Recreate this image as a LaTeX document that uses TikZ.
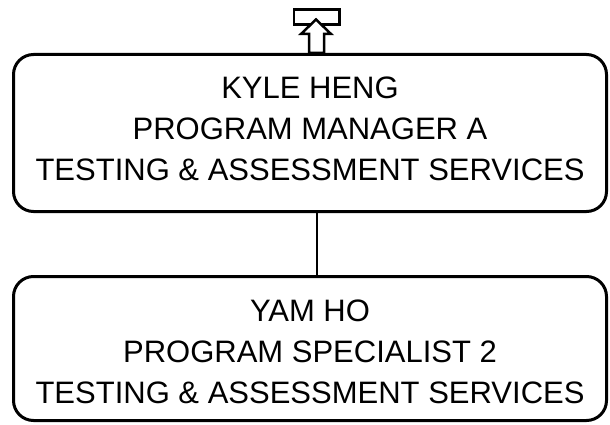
\documentclass[tikz,border=0pt]{standalone}
\usepackage{fontspec}
\setmainfont{Liberation Sans}
\begin{document}
\begin{tikzpicture}[x=1pt,y=-1pt,
  box/.style={draw=black,line width=3pt,rounded corners=20pt,minimum width=593pt,inner sep=0pt},
  label/.style={align=center,font=\fontsize{31}{41}\selectfont,inner sep=0pt},
  link/.style={draw=black,line width=2.5pt},
  icon/.style={draw=black,line width=2.5pt,fill=white}]
\useasboundingbox (0,0) rectangle (610,425);
\node[box,minimum height=157pt] (top) at (310,133) {};
\node[label] (toptext) at (310,129) {KYLE HENG\\PROGRAM MANAGER A\\TESTING \& ASSESSMENT SERVICES};
\node[box,minimum height=144pt] (bot) at (310,348.5) {};
\node[label] (bottext) at (310,352.3) {YAM HO\\PROGRAM SPECIALIST 2\\TESTING \& ASSESSMENT SERVICES};
\draw[link] (top.south -| 317,0) -- (bot.north -| 317,0);
\draw[icon] (294,9.3) rectangle (339.5,24.7);
\coordinate (tip) at (316,19.5);
\draw[icon] (tip) -- (331,34) -- (324,34) -- (324,53) -- (309,53) -- (309,34) -- (301,34) -- cycle;
\end{tikzpicture}
\end{document}
